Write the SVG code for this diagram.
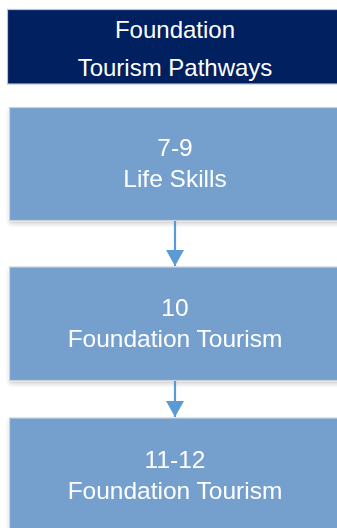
<svg xmlns="http://www.w3.org/2000/svg" width="337" height="528" viewBox="0 0 337 528">
<defs>
<style>
.hdr{fill:#002060;stroke:#b8c4d4;stroke-width:1.2}
.box{fill:#74A0CE;stroke:#c9d2dc;stroke-width:1.2}
.t{font-family:"Liberation Sans",Arial,sans-serif;fill:#ffffff;text-anchor:middle}
.th{font-size:24px}
.tb{font-size:24.5px}
.conn{stroke:#5B9BD5;stroke-width:2.2;fill:none}
</style>
<filter id="sh" x="-10%" y="-10%" width="120%" height="130%">
<feGaussianBlur in="SourceAlpha" stdDeviation="2"/>
<feOffset dy="3" result="b"/>
<feComponentTransfer><feFuncA type="linear" slope="0.18"/></feComponentTransfer>
<feMerge><feMergeNode/><feMergeNode in="SourceGraphic"/></feMerge>
</filter>
<marker id="ah" markerWidth="18" markerHeight="18" refX="16" refY="9" orient="auto" markerUnits="userSpaceOnUse">
<path d="M0,0 L16,9 L0,18 Z" fill="#5B9BD5"/>
</marker>
</defs>
<g id="header">
<rect class="hdr" x="7.5" y="9.5" width="340" height="74.5"/>
<text class="t th" x="175" y="38">Foundation</text>
<text class="t th" x="175" y="76">Tourism Pathways</text>
</g>
<g id="node-7-9" filter="url(#sh)">
<rect class="box" x="9.5" y="107.5" width="340" height="113"/>
<text class="t tb" x="175" y="156">7-9</text>
<text class="t tb" x="175" y="187">Life Skills</text>
</g>
<g id="node-10" filter="url(#sh)">
<rect class="box" x="9.5" y="267" width="340" height="113.5"/>
<text class="t tb" x="175" y="316">10</text>
<text class="t tb" x="175" y="347">Foundation Tourism</text>
</g>
<g id="node-11-12" filter="url(#sh)">
<rect class="box" x="9.5" y="418" width="340" height="120"/>
<text class="t tb" x="175" y="468">11-12</text>
<text class="t tb" x="175" y="499">Foundation Tourism</text>
</g>
<g id="connectors">
<line class="conn" x1="175" y1="221" x2="175" y2="266" marker-end="url(#ah)"/>
<line class="conn" x1="175" y1="381" x2="175" y2="417" marker-end="url(#ah)"/>
</g>
</svg>
